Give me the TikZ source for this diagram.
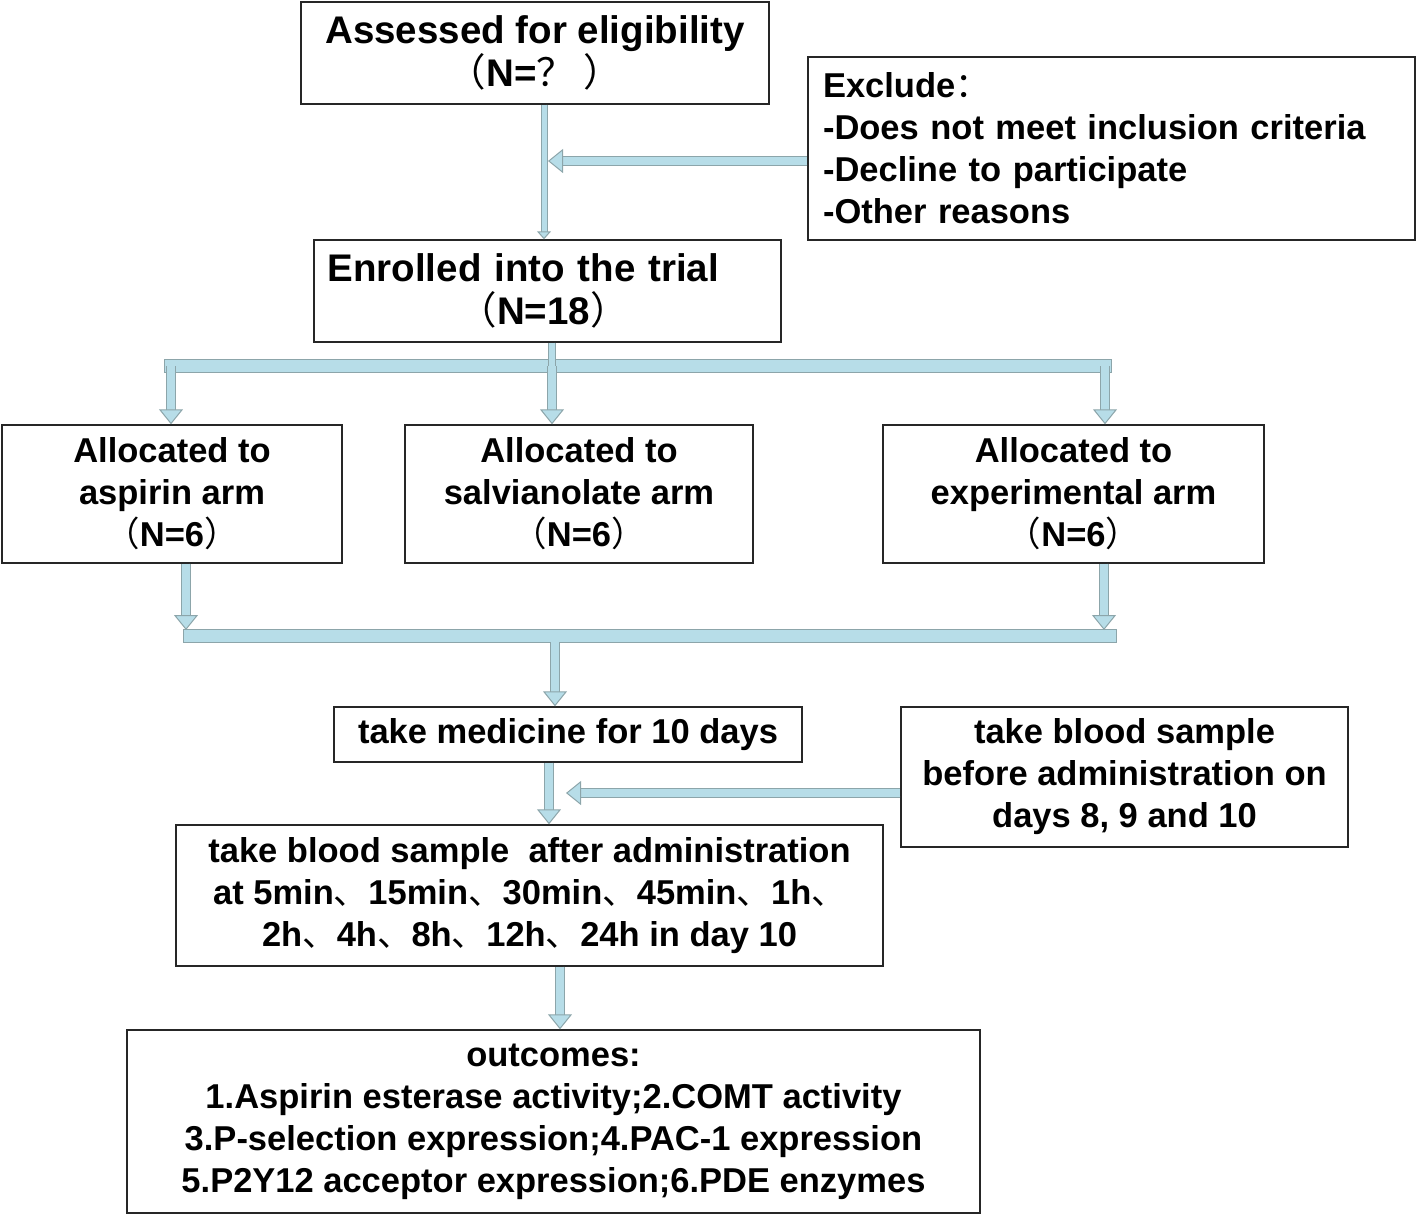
\documentclass[tikz,border=0pt]{standalone}
\usepackage{fontspec}
\setmainfont{Liberation Sans}
\newfontfamily\cjk{Noto Sans CJK SC}
\usetikzlibrary{arrows.meta}
\definecolor{arrowfill}{RGB}{183,221,232}
\definecolor{arrowedge}{RGB}{140,165,170}
\newcommand\fw[1]{{\cjk\mdseries #1}}

\begin{document}
\begin{tikzpicture}[x=1pt,y=-1pt,
    box/.style={draw=black!85, line width=1.4pt, inner sep=0pt, align=center,
      font=\bfseries\fontsize{34.5}{42}\selectfont},
    big/.style={font=\bfseries\fontsize{38.5}{43}\selectfont},
    flow/.style={draw=arrowfill, line width=8pt,
      -{Triangle[width=24pt,length=15pt,color=arrowedge,fill=arrowfill,line width=1pt]},
      preaction={draw=arrowedge, line width=10.5pt, -, shorten >=14pt}},
    flowthin/.style={draw=arrowfill, line width=5pt,
      -{Triangle[width=14pt,length=8pt,color=arrowedge,fill=arrowfill,line width=1pt]},
      preaction={draw=arrowedge, line width=7pt, -, shorten >=7pt}},
    stem/.style={draw=arrowfill, line width=6pt,
      preaction={draw=arrowedge, line width=8.5pt}},
    bar/.style={draw=arrowfill, line width=12pt, line cap=rect,
      preaction={draw=arrowedge, line width=14pt, line cap=rect}},
  ]
  \useasboundingbox (0,0) rectangle (1418,1216);

  % boxes
  \node[box, big, minimum width=468pt, minimum height=102pt] (assess) at (535,53)
    {Assessed for eligibility\\\fw{（}N=\fw{？ ）}};
  \node[box, text width=577pt, align=left, minimum width=607pt, minimum height=183pt] (exclude) at (1111.5,148.5)
    {Exclude\fw{：}\\-Does not meet inclusion criteria\\-Decline to participate\\-Other reasons};
  \node[box, big, text width=440pt, align=left, minimum width=467pt, minimum height=102pt] (enroll) at (547.5,291)
    {Enrolled into the trial\\\hspace*{131pt}\fw{（}N=18\fw{）}};

  \node[box, minimum width=340pt, minimum height=138pt] (armA) at (172,494)
    {Allocated to\\aspirin arm\\\fw{（}N=6\fw{）}};
  \node[box, minimum width=348pt, minimum height=138pt] (armS) at (579,494)
    {Allocated to\\salvianolate arm\\\fw{（}N=6\fw{）}};
  \node[box, minimum width=381pt, minimum height=138pt] (armE) at (1073.5,494)
    {Allocated to\\experimental arm\\\fw{（}N=6\fw{）}};

  \node[box, minimum width=468pt, minimum height=55pt] (medicine) at (568,734.5)
    {take medicine for 10 days};
  \node[box, minimum width=447pt, minimum height=140pt] (before) at (1124.5,777)
    {take blood sample\\before administration on\\days 8, 9 and 10};
  \node[box, minimum width=707pt, minimum height=141pt] (after) at (529.5,895.5)
    {take blood sample\ \ after administration\\
     at 5min\fw{、}15min\fw{、}30min\fw{、}45min\fw{、}1h\fw{、}\\
     2h\fw{、}4h\fw{、}8h\fw{、}12h\fw{、}24h in day 10};
  \node[box, minimum width=853pt, minimum height=183pt] (outcomes) at (553.5,1121.5)
    {outcomes:\\1.Aspirin esterase activity;2.COMT activity\\
     3.P-selection expression;4.PAC-1 expression\\
     5.P2Y12 acceptor expression;6.PDE enzymes};

  % junction points
  \coordinate (down1) at (544,0);
  \coordinate (excl) at (548,161);
  \coordinate (split) at (552,366);
  \coordinate (splitA) at (171,366);
  \coordinate (splitE) at (1105,366);
  \coordinate (joinA) at (186,630);
  \coordinate (joinE) at (1104,630);
  \coordinate (joinL) at (190,636);
  \coordinate (joinR) at (1110,636);
  \coordinate (join) at (555,642);
  \coordinate (dose) at (549,0);
  \coordinate (pre) at (566,793);
  \coordinate (post) at (560,0);

  % arrows
  \draw[flowthin] (assess.south -| down1) -- (enroll.north -| down1);
  \draw[flow] (exclude.west |- excl) -- (excl);

  \draw[bar] (splitA) -- (splitE);
  \draw[stem] (enroll.south -| split) -- (split);
  \draw[flow] (splitA) -- (armA.north -| splitA);
  \draw[flow] (split) -- (armS.north -| split);
  \draw[flow] (splitE) -- (armE.north -| splitE);

  \draw[bar] (joinL) -- (joinR);
  \draw[flow] (armA.south -| joinA) -- (joinA);
  \draw[flow] (armE.south -| joinE) -- (joinE);
  \draw[flow] (join) -- (medicine.north -| join);

  \draw[flow] (medicine.south -| dose) -- (after.north -| dose);
  \draw[flow] (before.west |- pre) -- (pre);
  \draw[flow] (after.south -| post) -- (outcomes.north -| post);
\end{tikzpicture}
\end{document}
